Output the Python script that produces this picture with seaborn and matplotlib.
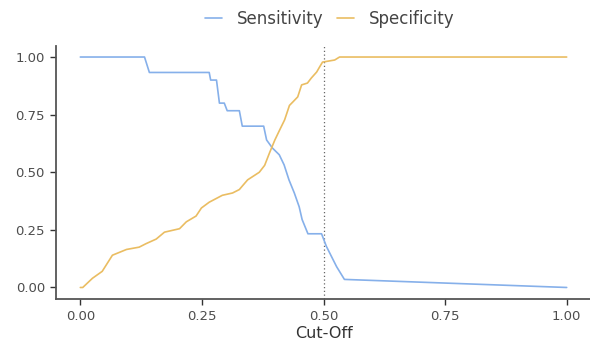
import matplotlib
matplotlib.use("Agg")
import matplotlib.pyplot as plt
import seaborn as sns
import pandas as pd

sens_cut = [0.0, 0.132, 0.142, 0.265, 0.268, 0.280, 0.286, 0.296, 0.302, 0.327, 0.333,
            0.377, 0.383, 0.395, 0.409, 0.419, 0.429, 0.440, 0.450, 0.456, 0.468,
            0.496, 0.506, 0.527, 0.543, 1.0]
sens_val = [1.0, 1.0, 0.933, 0.933, 0.90, 0.90, 0.80, 0.80, 0.767, 0.767, 0.70,
            0.70, 0.64, 0.605, 0.576, 0.532, 0.467, 0.41, 0.35, 0.295, 0.233,
            0.233, 0.178, 0.09, 0.035, 0.0]

spec_cut = [0.0, 0.005, 0.025, 0.045, 0.066, 0.095, 0.121, 0.135, 0.156, 0.173, 0.204,
            0.218, 0.238, 0.249, 0.265, 0.292, 0.313, 0.327, 0.333, 0.344, 0.368,
            0.379, 0.389, 0.400, 0.410, 0.420, 0.430, 0.437, 0.447, 0.455, 0.467,
            0.475, 0.486, 0.492, 0.498, 0.523, 0.533, 1.0]
spec_val = [0.0, 0.0, 0.04, 0.07, 0.14, 0.165, 0.175, 0.19, 0.21, 0.24, 0.255,
            0.285, 0.31, 0.345, 0.37, 0.40, 0.41, 0.425, 0.44, 0.467, 0.50,
            0.53, 0.584, 0.64, 0.684, 0.727, 0.79, 0.805, 0.827, 0.879, 0.887,
            0.909, 0.935, 0.957, 0.978, 0.987, 1.0, 1.0]

x_ticks = [0.0, 0.25, 0.5, 0.75, 1.0]
y_ticks = [0.0, 0.25, 0.5, 0.75, 1.0]
cutoff = 0.5

df = pd.concat([
    pd.DataFrame({"cut": sens_cut, "value": sens_val, "metric": "Sensitivity"}),
    pd.DataFrame({"cut": spec_cut, "value": spec_val, "metric": "Specificity"}),
])

sns.set_theme(style="white")
plt.rcParams["font.family"] = ["DejaVu Sans"]

fig = plt.figure(figsize=(5.9, 3.43), dpi=100)
ax = fig.add_axes([56/590, 1 - 299/343, 535/590, (299 - 45.5)/343])

sns.lineplot(data=df, x="cut", y="value", hue="metric", estimator=None, sort=False,
             palette={"Sensitivity": "#86b0ea", "Specificity": "#eabd62"},
             linewidth=1.2, ax=ax)
ax.axvline(cutoff, color="#666666", linestyle=(0, (1, 2)), linewidth=0.9, zorder=0)

ax.set_xlim(-0.05, 1.05)
ax.set_ylim(-0.05, 1.05)
ax.set_xticks(x_ticks)
ax.set_yticks(y_ticks)
ax.set_xticklabels([f"{t:.2f}" for t in x_ticks])
ax.set_yticklabels([f"{t:.2f}" for t in y_ticks])
ax.tick_params(axis="both", which="both", length=4, width=1, color="#333333",
               labelsize=9.5, labelcolor="#4d4d4d", pad=4, bottom=True, left=True)
ax.set_xlabel("Cut-Off", fontsize=11.5, color="#333333", labelpad=2)
ax.set_ylabel("")
for s in ["top", "right"]:
    ax.spines[s].set_visible(False)
for s in ["left", "bottom"]:
    ax.spines[s].set_color("#555555")
    ax.spines[s].set_linewidth(1.3)

handles, labels = ax.get_legend_handles_labels()
ax.legend(handles, labels, loc="center", bbox_to_anchor=(329.5/590, 1 - 19/343),
          bbox_transform=fig.transFigure,
          ncol=2, frameon=False, fontsize=12, handlelength=1.05, columnspacing=0.8,
          handletextpad=0.86, labelcolor="#444444")

fig.savefig("out.png", dpi=100)
